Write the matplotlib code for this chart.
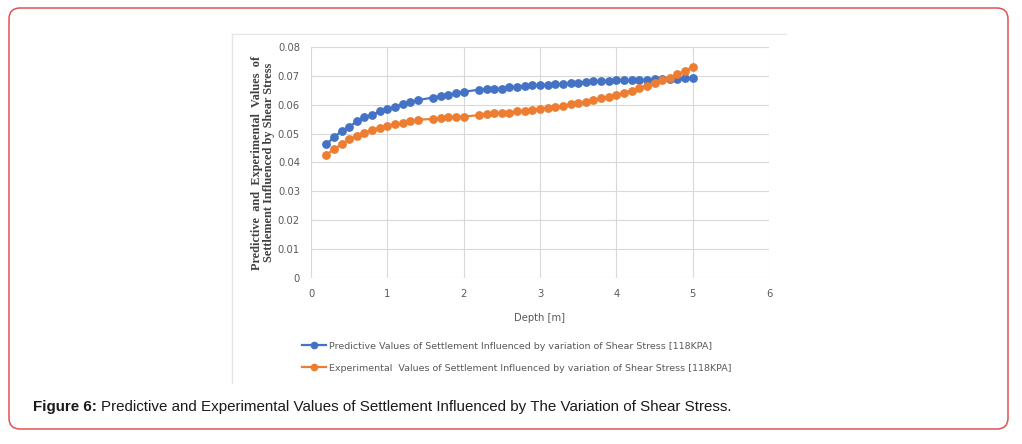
import matplotlib.pyplot as plt
from matplotlib.patches import FancyBboxPatch
from matplotlib.lines import Line2D

depth = [0.2, 0.3, 0.4, 0.5, 0.6, 0.7, 0.8, 0.9, 1.0, 1.1, 1.2, 1.3, 1.4,
         1.6, 1.7, 1.8, 1.9, 2.0, 2.2, 2.3, 2.4, 2.5, 2.6, 2.7, 2.8, 2.9,
         3.0, 3.1, 3.2, 3.3, 3.4, 3.5, 3.6, 3.7, 3.8, 3.9, 4.0, 4.1, 4.2,
         4.3, 4.4, 4.5, 4.6, 4.7, 4.8, 4.9, 5.0]

predictive = [0.0463, 0.0487, 0.0509, 0.0524, 0.0542, 0.0556, 0.0565, 0.0577,
              0.0585, 0.0593, 0.0601, 0.0609, 0.0616, 0.0625, 0.0630, 0.0634,
              0.0640, 0.0645, 0.0652, 0.0653, 0.0655, 0.0656, 0.0660, 0.0663,
              0.0664, 0.0667, 0.0669, 0.0669, 0.0671, 0.0672, 0.0675, 0.0676,
              0.0679, 0.0681, 0.0683, 0.0683, 0.0684, 0.0685, 0.0685, 0.0686,
              0.0687, 0.0689, 0.0689, 0.0690, 0.0690, 0.0691, 0.0691]

experimental = [0.0426, 0.0446, 0.0463, 0.0480, 0.0493, 0.0503, 0.0513, 0.0520,
                0.0527, 0.0532, 0.0537, 0.0542, 0.0548, 0.0551, 0.0554, 0.0556,
                0.0557, 0.0559, 0.0564, 0.0567, 0.0570, 0.0572, 0.0573, 0.0577,
                0.0579, 0.0582, 0.0586, 0.0589, 0.0592, 0.0596, 0.0601, 0.0605,
                0.0610, 0.0616, 0.0622, 0.0627, 0.0634, 0.0642, 0.0648, 0.0659,
                0.0665, 0.0675, 0.0684, 0.0693, 0.0705, 0.0717, 0.0731]

labels = ["Predictive Values of Settlement Influenced by variation of Shear Stress [118KPA]",
          "Experimental  Values of Settlement Influenced by variation of Shear Stress [118KPA]"]
colors = ["#4472C4", "#ED7D31"]

W, H = 1022, 444
fig = plt.figure(figsize=(W / 100, H / 100), dpi=100)

# page frame (pixel coordinates)
bg = fig.add_axes([0, 0, 1, 1])
bg.set_xlim(0, W)
bg.set_ylim(H, 0)
bg.axis("off")
bg.add_patch(FancyBboxPatch((9, 8), 999, 421, boxstyle="round,pad=0,rounding_size=11",
                            fill=False, edgecolor="#e05252", linewidth=1.1))
bg.plot([232, 232], [34, 383], color="#e6e6e6", lw=1)
bg.plot([232, 786], [34, 34], color="#e6e6e6", lw=1)

ax = fig.add_axes([311 / W, 1 - 278 / H, 458 / W, 231 / H])
for y, c, lab in zip([predictive, experimental], colors, labels):
    ax.plot(depth, y, color=c, lw=1.6, marker="o", ms=5.3, label=lab)

ax.set_xlim(0, 6)
ax.set_ylim(0, 0.08)
ax.set_xticks(range(0, 7))
ax.set_yticks([i / 100 for i in range(9)])
ax.set_yticklabels(["0"] + [f"{i / 100:.2f}" for i in range(1, 9)])
ax.grid(True, color="#d9d9d9", lw=0.8)
ax.set_axisbelow(True)
for s in ax.spines.values():
    s.set_visible(False)
ax.tick_params(length=0, labelsize=7.2, labelcolor="#595959", pad=8)
ax.set_xlabel("Depth [m]", fontsize=7.2, color="#595959", labelpad=10)
ax.set_ylabel("Predictive  and  Experimental  Values  of\nSettlement Influenced by Shear Stress",
              fontsize=8.8, family="Liberation Serif", fontweight="bold", color="#404040",
              linespacing=0.95, labelpad=2)

handles = [Line2D([], [], color=c, lw=1.6, marker="o", ms=4.5) for c in colors]
fig.legend(handles, labels, loc="upper left", bbox_to_anchor=(293 / W, 1 - 333 / H),
           frameon=False, fontsize=6.8, labelcolor="#595959", handlelength=2.6,
           handletextpad=0.3, labelspacing=1.4)

t = bg.text(33, 407, "Figure 6:", fontsize=10.9, fontweight="bold", color="#1a1a1a",
            family="Liberation Sans", va="center", ha="left")
fig.canvas.draw()
bb = t.get_window_extent()
x_end = bb.x1 + 4
bg.text(x_end, H - 407, "Predictive and Experimental Values of Settlement Influenced by The Variation of Shear Stress.",
        fontsize=10.9, color="#1a1a1a", family="Liberation Sans", va="center", ha="left",
        transform=None)

fig.savefig("out.png", dpi=100)
